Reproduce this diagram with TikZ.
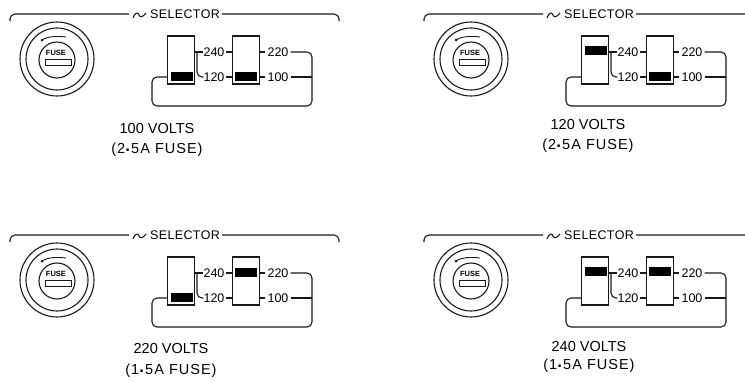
\documentclass[tikz,border=0pt]{standalone}
\usepackage{fontspec}
\setmainfont{Liberation Sans}
\newcommand{\lblfont}{\fontsize{12.5}{14}\selectfont}
\newfontfamily\selfam[LetterSpace=3]{Liberation Sans}
\newfontfamily\capfam[LetterSpace=7]{Liberation Sans}
\newcommand{\selfont}{\selfam\fontsize{12.5}{14}\selectfont}
\newcommand{\capfont}{\fontsize{14.5}{16}\selectfont}
\newcommand{\capwide}{\capfam\fontsize{14.5}{16}\selectfont}
\newcommand{\fusefont}{\fontsize{7.5}{8}\selectfont\bfseries}
\newcommand{\mdot}{\raisebox{2.5pt}{\fontsize{17}{17}\selectfont\textbf{.}}}
\tikzset{
  x=1pt,y=-1pt,
  wire/.style={line width=1.1pt,black!90,rounded corners=5pt},
  switchbox/.style={draw=black!90,line width=1.2pt,minimum width=27pt,minimum height=48pt,inner sep=0},
  slider/.style={fill=black,minimum width=22pt,minimum height=9pt,inner sep=0},
  lbl/.style={inner sep=0,font=\lblfont},
  ring/.style={draw=black!90,line width=1.1pt,inner sep=0,circle},
}
% #1 prefix, #2 shift, #3 slider 1 y, #4 slider 2 y, #5 caption x, #6 caption y1, #7 caption y2, #8 line1, #9 line2
\newcommand{\panel}[9]{%
\begin{scope}[shift={#2},name prefix=#1-]
  \node[inner sep=0,font=\selfont] (sel) at (185,14) {SELECTOR};
  \coordinate (bl) at (10,21); \coordinate (tl) at (129,14);
  \coordinate (br) at (339,21); \coordinate (tr) at (222,14);
  \draw[wire] (bl) -- (10,14) -- (tl);
  \draw[wire] (tr) -- (339,14) -- (br);
  \coordinate (t0) at (133,18); \coordinate (t1) at (146,13);
  \draw[line width=1.1pt,black!90] (t0) .. controls (135,12) and (138,12) .. (139,15) .. controls (140,18) and (143,17) .. (t1);
  \node[ring,minimum size=74pt] (f1) at (57,59) {};
  \node[ring,minimum size=62pt] (f2) at (57,59) {};
  \node[ring,minimum size=36pt] (f3) at (57,60) {};
  \node[inner sep=0,font=\fusefont] (fuse) at (56,53) {FUSE};
  \node[draw=black!90,line width=0.9pt,minimum width=26pt,minimum height=6pt,inner sep=0] (slot) at (58,62) {};
  \draw[line width=0.9pt,black!90] (42,40) .. controls (48,36) and (58,36) .. (66,37);
  \fill[black!90] (42,40) circle (1.5);
  \node[switchbox] (s1) at (181,60) {};
  \node[switchbox] (s2) at (246,60) {};
  \node[slider] (k1) at (181.5,#3) {};
  \node[slider] (k2) at (246,#4) {};
  \node[lbl] (n240) at (214,52) {240};
  \node[lbl] (n120) at (214,77) {120};
  \node[lbl] (n220) at (278,52) {220};
  \node[lbl] (n100) at (278,77) {100};
  \draw[wire] (s1.east |- n240) -- (n240.west);
  \draw[wire] (197,52) -- (197,77) -- (n120.west);
  \draw[wire] (n240.east) ++(1.5,0) -- (s2.west |- n240);
  \draw[wire] (n120.east) ++(1.5,0) -- (s2.west |- n120);
  \draw[wire] (s2.east |- n220) -- ++(5,0);
  \draw[wire] (s2.east |- n100) -- ++(5,0);
  \draw[wire] (n220.east) ++(2,0) -- (312,52) -- (312,106) -- (152,106) -- (152,77) -- (s1.west |- n120);
  \draw[wire] (n100.east) ++(2,0) -- (312,77);
  \node[inner sep=0,font=\capfont] (c1) at (#5,#6) {#8};
  \node[inner sep=0,font=\capwide] (c2) at (#5,#7) {#9};
\end{scope}}
\begin{document}
\begin{tikzpicture}
\useasboundingbox (0,0) rectangle (745,381);
\panel{a}{(0,0)}{76}{76}{157}{129}{150}{100 VOLTS}{(2\mdot5A FUSE)}
\panel{b}{(414,0)}{50}{76}{174}{125}{146}{120 VOLTS}{(2\mdot5A FUSE)}
\panel{c}{(0,221)}{76}{51}{171}{128}{150}{220 VOLTS}{(1\mdot5A FUSE)}
\panel{d}{(414,221)}{50}{50}{175}{126}{145}{240 VOLTS}{(1\mdot5A FUSE)}
\end{tikzpicture}
\end{document}
